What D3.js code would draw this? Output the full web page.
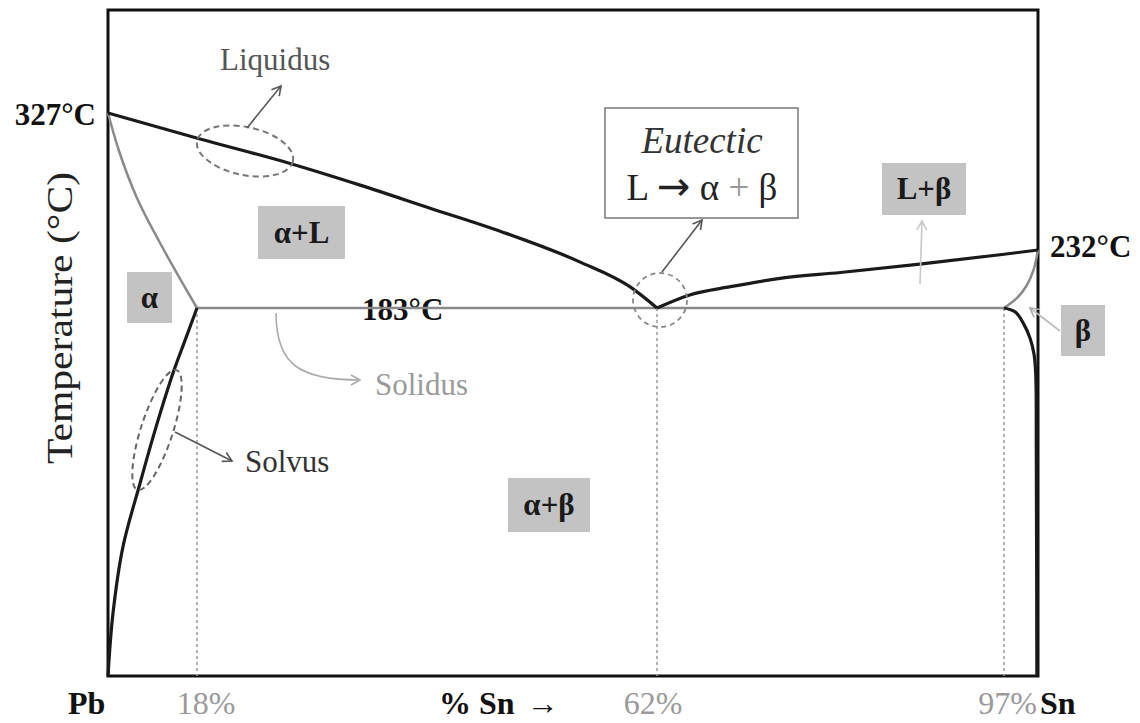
<!DOCTYPE html>
<html><head><meta charset="utf-8">
<script src="https://cdn.jsdelivr.net/npm/d3@7"></script>
<style>body{margin:0;background:#fff}svg{display:block}text{font-family:"Liberation Serif","Times New Roman",serif}</style>
</head><body><svg id="c" width="1140" height="723"></svg>
<script>
// ---- data (composition in % Sn, temperature in °C) ----
const liquidusLeftSn  = [0, 18.3, 26.9, 33.6, 40.3, 47.0, 54.6, 59.4, 62];
const liquidusLeftT   = [327, 309, 292, 277, 261, 245, 222, 201, 183];
const liquidusRightSn = [62, 65.3, 69.4, 74.4, 80.5, 88.5, 96.6, 100];
const liquidusRightT  = [183, 194, 201, 208, 213, 220, 228, 232];
const solidusAlphaSn  = [0, 2.2, 6.0, 11.3, 18];
const solidusAlphaT   = [327, 301, 267, 232, 183];
const solvusAlphaSn   = [18, 15.6, 13.2, 9.5, 6.5, 3.0, 1.0, 0];
const solvusAlphaT    = [183, 167, 151, 122, 96, 64, 31, 0];
const solidusBetaSn   = [97, 98.2, 99.0, 99.6, 100];
const solidusBetaT    = [183, 192, 202, 215, 232];
const solvusBetaSn    = [97, 98.0, 98.7, 99.3, 99.65, 99.8, 99.85, 99.9];
const solvusBetaT     = [183, 181, 175.5, 168, 160, 150, 112, 0];
const eutecticSn      = [18, 97];
const eutecticT       = [183, 183];
const keyCompositions = [18, 62, 97];
const meltingPoints   = [327, 232];
const eutecticTemp    = 183;
const phaseNames      = ["α", "α+L", "L+β", "β", "α+β"];

// ---- scales (schematic, piecewise) ----
const x = d3.scaleLinear().domain([0, 18, 62, 97, 100]).range([108, 197, 657, 1004, 1038]);
const y = d3.scaleLinear().domain([0, 183, 232, 327]).range([676, 308, 250, 113]);

const svg = d3.select("#c");
svg.append("rect").attr("width",1140).attr("height",723).attr("fill","#fff");
const defs = svg.append("defs");
function marker(id, color){
  defs.append("marker").attr("id",id).attr("viewBox","0 0 12 12").attr("refX",10).attr("refY",6)
    .attr("markerWidth",12).attr("markerHeight",12).attr("markerUnits","userSpaceOnUse").attr("orient","auto")
    .append("path").attr("d","M1,1 L10,6 L1,11").attr("fill","none").attr("stroke",color).attr("stroke-width",1.6);
}
marker("mDark","#555"); marker("mLight","#aaa"); marker("mPale","#c8c8c8");

const zip = (a,b)=>a.map((v,i)=>[v,b[i]]);
const mk = c => d3.line().x(d=>x(d[0])).y(d=>y(d[1])).curve(c);
const lineCR = mk(d3.curveCatmullRom.alpha(0.5));
const lineMX = mk(d3.curveMonotoneX);
const lineMY = mk(d3.curveMonotoneY);

// frame
svg.append("rect").attr("x",x(0)).attr("y",10).attr("width",x(100)-x(0)).attr("height",y(0)-10)
  .attr("fill","none").attr("stroke","#111").attr("stroke-width",3);

// dotted verticals
svg.selectAll(".vdrop").data(keyCompositions).join("line")
  .attr("x1",d=>x(d)).attr("x2",d=>x(d)).attr("y1",y(eutecticTemp)).attr("y2",y(0))
  .attr("stroke","#999").attr("stroke-width",1.5).attr("stroke-dasharray","3,3");

// 183°C label (under the line)
svg.append("text").attr("x",362).attr("y",y(eutecticTemp)+12).attr("font-size",31).attr("font-weight","bold")
  .attr("fill","#111").text(eutecticTemp+"°C");

// gray lines
svg.append("path").attr("d",lineCR(zip(eutecticSn,eutecticT))).attr("fill","none").attr("stroke","#8a8a8a").attr("stroke-width",2.5);
svg.append("path").attr("d",lineMY(zip(solidusAlphaSn,solidusAlphaT))).attr("fill","none").attr("stroke","#8a8a8a").attr("stroke-width",2.5);
svg.append("path").attr("d",lineCR(zip(solidusBetaSn,solidusBetaT))).attr("fill","none").attr("stroke","#8a8a8a").attr("stroke-width",2.5);

// black lines
const blk = (d)=>svg.append("path").attr("d",d).attr("fill","none").attr("stroke","#1a1a1a").attr("stroke-width",3.2).attr("stroke-linejoin","round");
blk(lineMX(zip(liquidusLeftSn,liquidusLeftT)));
blk(lineMX(zip(liquidusRightSn,liquidusRightT)));
blk(lineCR(zip(solvusAlphaSn,solvusAlphaT)));
blk(lineCR(zip(solvusBetaSn,solvusBetaT)));

// dashed highlight ellipses
svg.append("ellipse").attr("cx",245).attr("cy",151).attr("rx",49).attr("ry",24).attr("transform","rotate(12,245,151)")
  .attr("fill","none").attr("stroke","#777").attr("stroke-width",2).attr("stroke-dasharray","6,4");
svg.append("ellipse").attr("cx",157).attr("cy",430).attr("rx",16).attr("ry",63).attr("transform","rotate(18,157,430)")
  .attr("fill","none").attr("stroke","#666").attr("stroke-width",2).attr("stroke-dasharray","6,4");
svg.append("circle").attr("cx",x(62)+3).attr("cy",y(eutecticTemp)-8).attr("r",27)
  .attr("fill","none").attr("stroke","#888").attr("stroke-width",1.8).attr("stroke-dasharray","5,4");

// arrows
function arrow(x1,y1,x2,y2,color,m){
  svg.append("line").attr("x1",x1).attr("y1",y1).attr("x2",x2).attr("y2",y2).attr("stroke",color).attr("stroke-width",1.6).attr("marker-end",`url(#${m})`);
}
arrow(247,128,281,86,"#555","mDark");
arrow(662,272,702,220,"#555","mDark");
arrow(175,432,232,461,"#555","mDark");
arrow(920,284,922,221,"#c8c8c8","mPale");
arrow(1060,331,1030,308,"#bbb","mLight");
svg.append("path").attr("d","M276,313 C276,365 300,380 360,380").attr("fill","none").attr("stroke","#aaa").attr("stroke-width",1.6).attr("marker-end","url(#mLight)");

// annotation texts
svg.append("text").attr("x",220).attr("y",70).attr("font-size",31).attr("fill","#555").text("Liquidus");
svg.append("text").attr("x",245).attr("y",472).attr("font-size",31).attr("fill","#333").text("Solvus");
svg.append("text").attr("x",375).attr("y",395).attr("font-size",31).attr("fill","#9a9a9a").text("Solidus");

// eutectic box
svg.append("rect").attr("x",605).attr("y",108).attr("width",193).attr("height",110).attr("fill","#fff").attr("stroke","#777").attr("stroke-width",1.5);
svg.append("text").attr("x",702).attr("y",153).attr("text-anchor","middle").attr("font-size",37).attr("font-style","italic").attr("fill","#333").text("Eutectic");
const eq = svg.append("text").attr("x",702).attr("y",200).attr("text-anchor","middle").attr("font-size",37).attr("fill","#222");
eq.append("tspan").text("L ");
eq.append("tspan").attr("font-family","DejaVu Sans").attr("font-size",40).text("→");
eq.append("tspan").text(" α ");
eq.append("tspan").attr("fill","#999").text("+");
eq.append("tspan").text(" β");

// phase boxes
const phaseBoxes = [[127,272,45,51],[258,206,87,53],[882,163,84,52],[1061,305,44,51],[508,478,82,54]];
phaseNames.forEach((p,i)=>{
  const [bx,by,bw,bh]=phaseBoxes[i];
  svg.append("rect").attr("x",bx).attr("y",by).attr("width",bw).attr("height",bh).attr("fill","#c3c3c3");
  svg.append("text").attr("x",bx+bw/2).attr("y",by+bh/2+10).attr("text-anchor","middle").attr("font-size",31).attr("font-weight","bold").attr("fill","#1a1a1a").text(p);
});

// melting point labels
svg.append("text").attr("x",96).attr("y",y(meltingPoints[0])+12).attr("text-anchor","end").attr("font-size",31).attr("font-weight","bold").attr("fill","#111").text(meltingPoints[0]+"°C");
svg.append("text").attr("x",1050).attr("y",y(meltingPoints[1])+7).attr("font-size",31).attr("font-weight","bold").attr("fill","#111").text(meltingPoints[1]+"°C");

// y-axis title
svg.append("text").attr("transform","translate(72,318) rotate(-90)").attr("text-anchor","middle").attr("font-size",35)
  .attr("fill","#222").attr("textLength",292).attr("lengthAdjust","spacingAndGlyphs").text("Temperature (°C)");

// bottom axis labels
const by0 = 714;
svg.append("text").attr("x",68).attr("y",by0).attr("font-size",32).attr("font-weight","bold").attr("fill","#111").text("Pb");
svg.append("text").attr("x",1040).attr("y",by0).attr("font-size",32).attr("font-weight","bold").attr("fill","#111").text("Sn");
const tickShift = {18:9, 62:-4, 97:0};
svg.selectAll(".ptick").data(keyCompositions).join("text")
  .attr("x",d=>d===97?x(d)+33:x(d)+tickShift[d]).attr("y",by0).attr("text-anchor",d=>d===97?"end":"middle")
  .attr("font-size",32).attr("fill","#9a9a9a").text(d=>d+"%");
const sn = svg.append("text").attr("x",439).attr("y",by0).attr("font-size",32).attr("fill","#111");
sn.append("tspan").attr("font-weight","bold").text("% Sn ");
sn.append("tspan").attr("dx",4).text("→");
</script></body></html>
